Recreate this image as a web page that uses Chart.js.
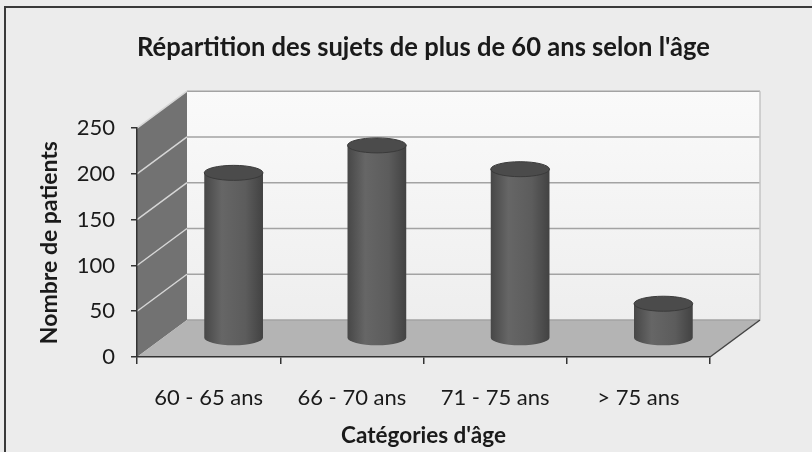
<!DOCTYPE html>
<html>
<head>
<meta charset="utf-8">
<script src="https://cdn.jsdelivr.net/npm/chart.js@4/dist/chart.umd.min.js"></script>
<style>
  html, body { margin: 0; padding: 0; background: #ececec; }
  #wrap { width: 812px; height: 452px; }
</style>
</head>
<body>
<div id="wrap"><canvas id="chart" width="812" height="452"></canvas></div>
<script>
const categories = ['60 - 65 ans', '66 - 70 ans', '71 - 75 ans', '> 75 ans'];
const patients = [181, 211, 185, 38];
const yTicks = [0, 50, 100, 150, 200, 250];
const chartTitle = "Répartition des sujets de plus de 60 ans selon l'âge";
const xTitle = "Catégories d'âge";
const yTitle = 'Nombre de patients';

// depth of the fake 3D box (back wall offset from the front plane)
const DX = 50, DY = -37;
const FONT = 'Lato';
const INK = '#1a1a1a';

const box3d = {
  id: 'box3d',
  beforeDraw(chart) {
    const { ctx, chartArea: a, scales: { y } } = chart;
    const top = y.getPixelForValue(y.max), bot = y.getPixelForValue(0);
    ctx.save();
    ctx.fillStyle = '#ececec';
    ctx.fillRect(0, 0, chart.width, chart.height);
    // outer frame, only left and top show
    ctx.strokeStyle = '#3a3a3a';
    ctx.lineWidth = 2;
    ctx.beginPath();
    ctx.moveTo(5, chart.height);
    ctx.lineTo(5, 7);
    ctx.lineTo(chart.width, 7);
    ctx.stroke();

    // back wall
    const g = ctx.createLinearGradient(0, top + DY, 0, bot + DY);
    g.addColorStop(0, '#fafafa');
    g.addColorStop(1, '#eeeeee');
    ctx.fillStyle = g;
    ctx.fillRect(a.left + DX, top + DY, a.right - a.left, bot - top);
    // side wall
    ctx.fillStyle = '#727272';
    ctx.beginPath();
    ctx.moveTo(a.left, bot);
    ctx.lineTo(a.left, top);
    ctx.lineTo(a.left + DX, top + DY);
    ctx.lineTo(a.left + DX, bot + DY);
    ctx.closePath();
    ctx.fill();
    // floor
    ctx.fillStyle = '#b4b4b4';
    ctx.beginPath();
    ctx.moveTo(a.left, bot);
    ctx.lineTo(a.left + DX, bot + DY);
    ctx.lineTo(a.right + DX, bot + DY);
    ctx.lineTo(a.right, bot);
    ctx.closePath();
    ctx.fill();

    // gridlines on the walls
    ctx.lineWidth = 1.5;
    y.ticks.forEach(t => {
      const py = y.getPixelForValue(t.value);
      ctx.strokeStyle = '#a3a3a3';
      ctx.beginPath();
      ctx.moveTo(a.left + DX, py + DY);
      ctx.lineTo(a.right + DX, py + DY);
      ctx.stroke();
      if (t.value > 0) {
        ctx.strokeStyle = '#d6d6d6';
        ctx.beginPath();
        ctx.moveTo(a.left, py);
        ctx.lineTo(a.left + DX, py + DY);
        ctx.stroke();
      }
    });
    ctx.strokeStyle = '#c4c4c4';
    ctx.beginPath();
    ctx.moveTo(a.right + DX, top + DY);
    ctx.lineTo(a.right + DX, bot + DY);
    ctx.stroke();
    ctx.strokeStyle = '#444';
    ctx.beginPath();
    ctx.moveTo(a.right, bot);
    ctx.lineTo(a.right + DX, bot + DY);
    ctx.stroke();
    ctx.restore();
  },
  afterDatasetsDraw(chart) {
    const { ctx } = chart;
    const meta = chart.getDatasetMeta(0);
    ctx.save();
    meta.data.forEach(bar => {
      const { x, y, base, width } = bar.getProps(['x', 'y', 'base', 'width'], true);
      const cx = x + DX / 2, top = y + DY / 2, b = base + DY / 2;
      const rx = width / 2, ry = 7.5;
      const g = ctx.createLinearGradient(cx - rx, 0, cx + rx, 0);
      g.addColorStop(0, '#474747');
      g.addColorStop(0.3, '#666666');
      g.addColorStop(0.7, '#5c5c5c');
      g.addColorStop(1, '#424242');
      ctx.fillStyle = g;
      ctx.beginPath();
      ctx.moveTo(cx - rx, top);
      ctx.lineTo(cx - rx, b);
      ctx.ellipse(cx, b, rx, ry, 0, Math.PI, 0, true);
      ctx.lineTo(cx + rx, top);
      ctx.closePath();
      ctx.fill();
      ctx.fillStyle = '#4b4b4b';
      ctx.strokeStyle = '#3a3a3a';
      ctx.lineWidth = 1;
      ctx.beginPath();
      ctx.ellipse(cx, top, rx, ry, 0, 0, Math.PI * 2);
      ctx.fill();
      ctx.stroke();
    });
    ctx.restore();
  }
};

new Chart(document.getElementById('chart'), {
  type: 'bar',
  data: {
    labels: categories,
    datasets: [{
      data: patients,
      backgroundColor: 'rgba(0,0,0,0)',
      borderWidth: 0,
      barPercentage: 0.41,
      categoryPercentage: 1
    }]
  },
  options: {
    responsive: false,
    animation: false,
    layout: { padding: { top: 0, right: 102, bottom: 0, left: 0 } },
    plugins: {
      legend: { display: false },
      tooltip: { enabled: false },
      title: {
        display: true,
        text: chartTitle,
        fullSize: false,
        color: INK,
        font: { family: FONT, size: 26, weight: 'bold' },
        padding: { top: 32, bottom: 65 }
      }
    },
    scales: {
      x: {
        grid: { offset: true, drawOnChartArea: false, tickLength: 7, color: '#333', lineWidth: 1.5 },
        border: { color: '#333', width: 1.5 },
        ticks: { color: INK, padding: 21, font: { family: FONT, size: 22 } },
        title: {
          display: true, text: xTitle, color: INK,
          font: { family: FONT, size: 22.5, weight: 'bold' },
          padding: { top: 0, bottom: 3 }
        },
        afterFit(s) { s.height = 95; }
      },
      y: {
        min: 0,
        max: 250,
        afterBuildTicks(s) { s.ticks = yTicks.map(v => ({ value: v })); },
        grid: { drawOnChartArea: false, tickLength: 6, color: '#333', lineWidth: 1.5 },
        border: { color: '#333', width: 1.5 },
        ticks: { color: INK, padding: 16, font: { family: FONT, size: 22 } },
        title: {
          display: true, text: yTitle, color: INK,
          font: { family: FONT, size: 23, weight: 'bold' },
          padding: { top: 36, bottom: 0 }
        },
        afterFit(s) { s.width = 137; }
      }
    }
  },
  plugins: [box3d]
});
</script>
</body>
</html>
